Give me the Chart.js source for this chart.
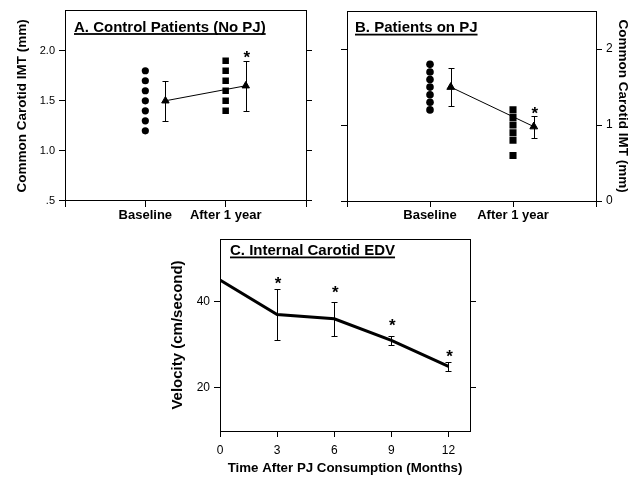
<!DOCTYPE html>
<html>
<head>
<meta charset="utf-8">
<script src="https://cdn.jsdelivr.net/npm/chart.js@4.4.1/dist/chart.umd.min.js"></script>
<style>
html,body{margin:0;padding:0;background:#fff;}
#quadro{position:relative;width:644px;height:481px;}
#quadro canvas{position:absolute;left:0;top:0;}
</style>
</head>
<body>
<div id="quadro">
<canvas id="graficoA" width="644" height="481"></canvas>
<canvas id="graficoB" width="644" height="481"></canvas>
<canvas id="graficoC" width="644" height="481"></canvas>
</div>
<script>
// dados
const grupos = ["Baseline", "After 1 year"];
const posGrupos = [1, 2];
const posMedias = [1.25, 2.25];

// A. Control Patients (No PJ)
const aBaseline = [1.2, 1.3, 1.4, 1.5, 1.6, 1.7, 1.8];
const aApos = [1.4, 1.5, 1.6, 1.7, 1.8, 1.9];
const aMedia = [1.5, 1.65];
const aErroMin = [1.3, 1.4];
const aErroMax = [1.7, 1.9];
const aEstrela = [null, 1.98];
const aTicks = [0.5, 1.0, 1.5, 2.0];
const aTickLabels = [".5", "1.0", "1.5", "2.0"];

// B. Patients on PJ
const bBaseline = [1.2, 1.3, 1.4, 1.5, 1.6, 1.7, 1.8];
const bApos = [1.2, 1.1, 1.0, 0.9, 0.8, 0.6];
const bMedia = [1.5, 0.98];
const bErroMin = [1.25, 0.83];
const bErroMax = [1.75, 1.12];
const bEstrela = [null, 1.21];
const bTicks = [0, 1, 2];

// C. Internal Carotid EDV
const meses = [0, 3, 6, 9, 12];
const cVelocidade = [45, 37, 36, 31, 25];
const cErroMin = [null, 31, 32, 30, 24];
const cErroMax = [null, 43, 40, 32, 26];
const cEstrela = [null, 45.2, 43.1, 35.5, 28.3];
const cTicks = [20, 40];

const fonte = "'Liberation Sans', Arial, sans-serif";
Chart.defaults.font.family = fonte;
Chart.defaults.color = "#000";
Chart.defaults.animation = false;
Chart.defaults.events = [];
Chart.defaults.plugins.legend.display = false;
Chart.defaults.plugins.tooltip.enabled = false;

// barras de erro, asteriscos e titulo sublinhado
const extras = {
  id: "extras",
  afterDraw(chart, args, opts) {
    const ctx = chart.ctx;
    const x = chart.scales.x, y = chart.scales.y;
    ctx.save();
    ctx.strokeStyle = "#000";
    ctx.fillStyle = "#000";
    ctx.lineWidth = 1;
    opts.xs.forEach((xv, i) => {
      if (opts.min[i] == null) return;
      const px = Math.round(x.getPixelForValue(xv)) + 0.5;
      const p1 = Math.round(y.getPixelForValue(opts.min[i])) + 0.5;
      const p2 = Math.round(y.getPixelForValue(opts.max[i])) + 0.5;
      ctx.beginPath();
      ctx.moveTo(px, p1); ctx.lineTo(px, p2);
      ctx.moveTo(px - opts.cap, p1); ctx.lineTo(px + opts.cap, p1);
      ctx.moveTo(px - opts.cap, p2); ctx.lineTo(px + opts.cap, p2);
      ctx.stroke();
    });

    ctx.font = "bold 17px " + fonte;
    ctx.textAlign = "center";
    ctx.textBaseline = "alphabetic";
    opts.estrelas.forEach((v, i) => {
      if (v == null) return;
      ctx.fillText("*", x.getPixelForValue(opts.xs[i]) + 1, y.getPixelForValue(v) + 10);
    });

    const t = opts.titulo;
    ctx.font = "bold 15px " + fonte;
    ctx.textAlign = "left";
    const tx = chart.chartArea.left + t.dx;
    const ty = chart.chartArea.top + t.dy;
    ctx.fillText(t.texto, tx, ty);
    const w = ctx.measureText(t.texto).width;
    ctx.fillRect(tx, ty + 1.5, w, 1.8);
    ctx.restore();
  }
};

function fixaTicks(valores) {
  return s => { s.ticks = valores.map(v => ({ value: v })); };
}

function eixoTopo(min, max) {
  return {
    type: "linear", position: "top", min: min, max: max,
    grid: { display: false, drawTicks: false },
    ticks: { display: false },
    border: { display: true, color: "#000", width: 1 },
    afterFit: s => { s.height = 0; }
  };
}

function pontos(xv, valores) {
  return valores.map(v => ({ x: xv, y: v }));
}

function medias(valores) {
  return valores.map((v, i) => ({ x: posMedias[i], y: v }));
}

const gradeTicks = { drawOnChartArea: false, drawTicks: true, tickLength: 6, color: "#000", lineWidth: 1 };
const borda = { display: true, color: "#000", width: 1 };

// painel A
new Chart(document.getElementById("graficoA"), {
  type: "scatter",
  data: {
    datasets: [
      { data: pontos(posGrupos[0], aBaseline), pointStyle: "circle", pointRadius: 3.6, backgroundColor: "#000", borderColor: "#000", borderWidth: 0 },
      { data: pontos(posGrupos[1], aApos), pointStyle: "rect", pointRadius: 4.6, backgroundColor: "#000", borderColor: "#000", borderWidth: 0 },
      { data: medias(aMedia), showLine: true, borderColor: "#000", borderWidth: 1, pointStyle: "triangle", pointRadius: 4.3, pointBackgroundColor: "#000", pointBorderColor: "#000", pointBorderWidth: 1 }
    ]
  },
  options: {
    responsive: false,
    layout: { padding: { top: 9, left: 0, right: 0, bottom: 0 } },
    scales: {
      x: {
        type: "linear", position: "bottom", min: 0, max: 3,
        afterBuildTicks: fixaTicks([0, 1, 2, 3]),
        afterFit: s => { s.height = 280; },
        grid: gradeTicks, border: borda,
        ticks: { autoSkip: false, maxRotation: 0, padding: 1, font: { size: 13, weight: "bold" },
          callback: v => v === posGrupos[0] ? grupos[0] : v === posGrupos[1] ? grupos[1] : "" }
      },
      x2: eixoTopo(0, 3),
      y: {
        type: "linear", position: "left", min: 0.5, max: 2.4,
        afterBuildTicks: fixaTicks(aTicks),
        afterFit: s => { s.width = 65; },
        grid: gradeTicks, border: borda,
        ticks: { autoSkip: false, padding: 4, font: { size: 11 },
          callback: v => aTickLabels[aTicks.indexOf(v)] },
        title: { display: true, text: "Common Carotid IMT (mm)", font: { size: 13.5, weight: "bold" }, padding: { top: 14, bottom: 0 } }
      },
      y2: {
        type: "linear", position: "right", min: 0.5, max: 2.4,
        afterBuildTicks: fixaTicks(aTicks),
        afterFit: s => { s.width = 338; },
        grid: gradeTicks, border: borda,
        ticks: { display: false }
      }
    },
    plugins: {
      extras: { xs: posMedias, min: aErroMin, max: aErroMax, cap: 3, estrelas: aEstrela,
        titulo: { texto: "A. Control Patients (No PJ)", dx: 9, dy: 21 } }
    }
  },
  plugins: [extras]
});

// painel B
new Chart(document.getElementById("graficoB"), {
  type: "scatter",
  data: {
    datasets: [
      { data: pontos(posGrupos[0], bBaseline), pointStyle: "circle", pointRadius: 3.8, backgroundColor: "#000", borderColor: "#000", borderWidth: 0 },
      { data: pontos(posGrupos[1], bApos), pointStyle: "rect", pointRadius: 5, backgroundColor: "#000", borderColor: "#000", borderWidth: 0 },
      { data: medias(bMedia), showLine: true, borderColor: "#000", borderWidth: 1, pointStyle: "triangle", pointRadius: 4.5, pointBackgroundColor: "#000", pointBorderColor: "#000", pointBorderWidth: 1 }
    ]
  },
  options: {
    responsive: false,
    layout: { padding: { top: 9, left: 0, right: 0, bottom: 0 } },
    scales: {
      x: {
        type: "linear", position: "bottom", min: 0, max: 3,
        afterBuildTicks: fixaTicks([0, 1, 2, 3]),
        afterFit: s => { s.height = 280; },
        grid: gradeTicks, border: borda,
        ticks: { autoSkip: false, maxRotation: 0, padding: 1, font: { size: 13, weight: "bold" },
          callback: v => v === posGrupos[0] ? grupos[0] : v === posGrupos[1] ? grupos[1] : "" }
      },
      x2: eixoTopo(0, 3),
      y: {
        type: "linear", position: "left", min: 0, max: 2.5,
        afterBuildTicks: fixaTicks(bTicks),
        afterFit: s => { s.width = 347; },
        grid: gradeTicks, border: borda,
        ticks: { display: false }
      },
      y2: {
        type: "linear", position: "right", min: 0, max: 2.5,
        afterBuildTicks: fixaTicks(bTicks),
        afterFit: s => { s.width = 48; },
        grid: gradeTicks, border: borda,
        ticks: { autoSkip: false, padding: 4, font: { size: 12 } },
        title: { display: true, text: "Common Carotid IMT (mm)", font: { size: 13.5, weight: "bold" }, padding: { top: 13, bottom: 0 } }
      }
    },
    plugins: {
      extras: { xs: posMedias, min: bErroMin, max: bErroMax, cap: 3, estrelas: bEstrela,
        titulo: { texto: "B. Patients on PJ", dx: 8, dy: 21 } }
    }
  },
  plugins: [extras]
});

// painel C
new Chart(document.getElementById("graficoC"), {
  type: "scatter",
  data: {
    datasets: [
      { data: meses.map((m, i) => ({ x: m, y: cVelocidade[i] })), showLine: true, borderColor: "#000", borderWidth: 3, pointRadius: 0 }
    ]
  },
  options: {
    responsive: false,
    layout: { padding: { top: 239, left: 0, right: 0, bottom: 0 } },
    scales: {
      x: {
        type: "linear", position: "bottom", min: 0, max: 13.13,
        afterBuildTicks: fixaTicks(meses),
        afterFit: s => { s.height = 50; },
        grid: gradeTicks, border: borda,
        ticks: { autoSkip: false, maxRotation: 0, padding: 6, font: { size: 12 } },
        title: { display: true, text: "Time After PJ Consumption (Months)", font: { size: 13.3, weight: "bold" }, padding: { top: 0, bottom: 5 } }
      },
      x2: eixoTopo(0, 13.13),
      y: {
        type: "linear", position: "left", min: 10, max: 54.5,
        afterBuildTicks: fixaTicks(cTicks),
        afterFit: s => { s.width = 220; },
        grid: gradeTicks, border: borda,
        ticks: { autoSkip: false, padding: 4, font: { size: 12 } },
        title: { display: true, text: "Velocity (cm/second)", font: { size: 15, weight: "bold" }, padding: { top: 169, bottom: 0 } }
      },
      y2: {
        type: "linear", position: "right", min: 10, max: 54.5,
        afterBuildTicks: fixaTicks(cTicks),
        afterFit: s => { s.width = 174; },
        grid: gradeTicks, border: borda,
        ticks: { display: false }
      }
    },
    plugins: {
      extras: { xs: meses, min: cErroMin, max: cErroMax, cap: 3, estrelas: cEstrela,
        titulo: { texto: "C. Internal Carotid EDV", dx: 10, dy: 16 } }
    }
  },
  plugins: [extras]
});
</script>
</body>
</html>
